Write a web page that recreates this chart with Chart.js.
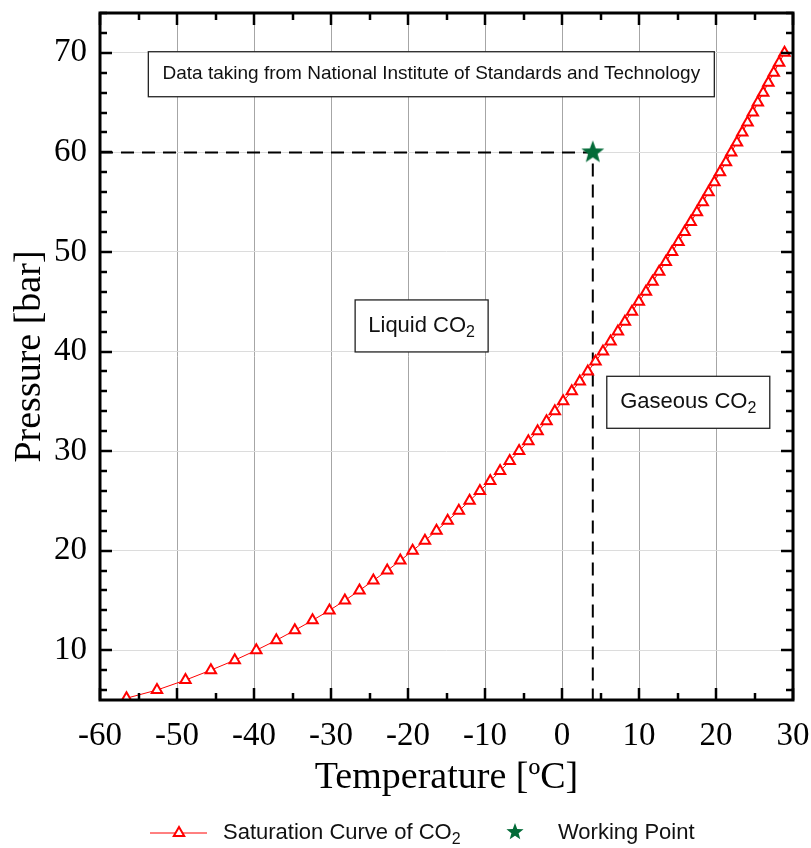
<!DOCTYPE html>
<html>
<head>
<meta charset="utf-8">
<script src="https://cdn.jsdelivr.net/npm/chart.js@4.4.0/dist/chart.umd.min.js"></script>
<style>
  html, body { margin: 0; padding: 0; background: #fff; }
  canvas { display: block; }
</style>
</head>
<body>
<canvas id="co2Chart" width="811" height="848"></canvas>
<script>
// saturation curve of CO2 (NIST values)
const satTemp = [-56.56, -52.6, -48.9, -45.6, -42.5, -39.7, -37.1, -34.7, -32.4, -30.2, -28.2,
  -26.3, -24.5, -22.7, -21.0, -19.4, -17.8, -16.3, -14.85, -13.4, -12.0, -10.66, -9.32, -8.04,
  -6.79, -5.57, -4.37, -3.17, -2.01, -0.93, 0.15, 1.27, 2.31, 3.35, 4.35, 5.32, 6.31, 7.26, 8.17,
  9.09, 9.98, 10.9, 11.76, 12.62, 13.48, 14.3, 15.13, 15.92, 16.72, 17.52, 18.28, 19.03, 19.79,
  20.52, 21.29, 21.98, 22.72, 23.41, 24.1, 24.78, 25.43, 26.13, 26.8, 27.5, 28.2, 28.9];
const satPressure = [5.18, 6, 7, 8, 9, 10, 11, 12, 13, 14, 15, 16, 17, 18, 19, 20, 21, 22, 23, 24,
  25, 26, 27, 28, 29, 30, 31, 32, 33, 34, 35, 36, 37, 38, 39, 40, 41, 42, 43, 44, 45, 46, 47, 48,
  49, 50, 51, 52, 53, 54, 55, 56, 57, 58, 59, 60, 61, 62, 63, 64, 65, 66, 67, 68, 69, 70];

const workTemp = 4;
const workPressure = 60;

const xMin = -60, xMax = 30;
const yMin = 5, yMax = 74;
const yTicks = [10, 20, 30, 40, 50, 60, 70];

// text boxes: centre in data units, size in px
const notes = [
  { parts: [['Data taking from National Institute of Standards and Technology', false]], x: -16.97, y: 67.85, w: 566, h: 45, size: 19 },
  { parts: [['Liquid CO', false], ['2', true]], x: -18.23, y: 42.57, w: 133, h: 52, size: 22 },
  { parts: [['Gaseous CO', false], ['2', true]], x: 16.4, y: 34.9, w: 163, h: 52, size: 22 }
];

const SANS = "'Liberation Sans', Arial, sans-serif";
const SERIF = "'Liberation Serif', 'Times New Roman', serif";

function makeStar(r, color) {
  const c = document.createElement('canvas');
  c.width = c.height = Math.ceil(r * 2 + 2);
  const g = c.getContext('2d');
  const cx = c.width / 2, cy = c.height / 2;
  g.beginPath();
  for (let i = 0; i < 10; i++) {
    const rad = i % 2 === 0 ? r : r * 0.42;
    const a = -Math.PI / 2 + i * Math.PI / 5;
    g.lineTo(cx + rad * Math.cos(a), cy + rad * Math.sin(a));
  }
  g.closePath();
  g.fillStyle = color;
  g.fill();
  return c;
}

const GREEN = '#036b38';
const starBig = makeStar(12, GREEN);
const starSmall = makeStar(9, GREEN);

// draws text with subscript pieces, centred or left aligned
function drawParts(ctx, parts, x, y, size, align) {
  const subSize = Math.round(size * 0.72);
  let total = 0;
  parts.forEach(p => {
    ctx.font = (p[1] ? subSize : size) + 'px ' + SANS;
    total += ctx.measureText(p[0]).width;
  });
  let cx = align === 'center' ? x - total / 2 : x;
  ctx.textAlign = 'left';
  ctx.textBaseline = 'middle';
  ctx.fillStyle = '#111';
  parts.forEach(p => {
    ctx.font = (p[1] ? subSize : size) + 'px ' + SANS;
    ctx.fillText(p[0], cx, p[1] ? y + size * 0.3 : y);
    cx += ctx.measureText(p[0]).width;
  });
}

const framePlugin = {
  id: 'framePlugin',
  afterDatasetsDraw(chart) {
    const ctx = chart.ctx;
    const xs = chart.scales.x, ys = chart.scales.y;
    ctx.save();
    notes.forEach(n => {
      const cx = xs.getPixelForValue(n.x), cy = ys.getPixelForValue(n.y);
      ctx.fillStyle = '#fff';
      ctx.fillRect(cx - n.w / 2, cy - n.h / 2, n.w, n.h);
      ctx.strokeStyle = '#222';
      ctx.lineWidth = 1.3;
      ctx.strokeRect(cx - n.w / 2, cy - n.h / 2, n.w, n.h);
      drawParts(ctx, n.parts, cx, cy, n.size, 'center');
    });
    ctx.restore();
  },
  afterDraw(chart) {
    const ctx = chart.ctx;
    const a = chart.chartArea;
    const xs = chart.scales.x, ys = chart.scales.y;
    ctx.save();
    // ticks on all four sides, pointing inward
    ctx.strokeStyle = '#000';
    ctx.lineWidth = 2.5;
    ctx.beginPath();
    for (let v = xMin; v <= xMax; v += 5) {
      const px = Math.round(xs.getPixelForValue(v));
      const len = v % 10 === 0 ? 12 : 7;
      ctx.moveTo(px, a.bottom); ctx.lineTo(px, a.bottom - len);
      ctx.moveTo(px, a.top); ctx.lineTo(px, a.top + len);
    }
    for (let v = 6; v <= yMax; v += 2) {
      const py = Math.round(ys.getPixelForValue(v));
      const len = v % 10 === 0 ? 12 : 7;
      ctx.moveTo(a.left, py); ctx.lineTo(a.left + len, py);
      ctx.moveTo(a.right, py); ctx.lineTo(a.right - len, py);
    }
    ctx.stroke();
    ctx.lineWidth = 3;
    ctx.strokeRect(a.left, a.top, a.right - a.left, a.bottom - a.top);

    // legend
    const ly = 833;
    ctx.strokeStyle = '#ff0000';
    ctx.lineWidth = 1;
    ctx.beginPath();
    ctx.moveTo(150, ly); ctx.lineTo(207, ly);
    ctx.stroke();
    const r = 6;
    ctx.beginPath();
    ctx.moveTo(179, ly - r);
    ctx.lineTo(179 + r * 0.866, ly + r * 0.5);
    ctx.lineTo(179 - r * 0.866, ly + r * 0.5);
    ctx.closePath();
    ctx.fillStyle = '#fff';
    ctx.fill();
    ctx.lineWidth = 2;
    ctx.stroke();
    drawParts(ctx, [['Saturation Curve of CO', false], ['2', true]], 223, ly, 22, 'left');
    ctx.drawImage(starSmall, 515 - starSmall.width / 2, ly - 1 - starSmall.height / 2);
    drawParts(ctx, [['Working Point', false]], 558, ly, 22, 'left');
    ctx.restore();
  }
};

const ctx = document.getElementById('co2Chart').getContext('2d');
new Chart(ctx, {
  type: 'scatter',
  data: {
    datasets: [
      {
        label: 'Saturation Curve of CO2',
        data: satTemp.map((t, i) => ({ x: t, y: satPressure[i] })),
        showLine: true,
        tension: 0,
        borderColor: '#ff0000',
        borderWidth: 1,
        pointStyle: 'triangle',
        pointRadius: 6,
        pointBorderWidth: 2,
        pointBorderColor: '#ff0000',
        pointBackgroundColor: '#ffffff'
      },
      {
        label: 'Working Point',
        data: [{ x: workTemp, y: workPressure }],
        pointStyle: starBig,
        pointRadius: 12
      },
      {
        label: 'guide',
        data: [{ x: xMin, y: workPressure }, { x: workTemp, y: workPressure }, { x: workTemp, y: yMin }],
        showLine: true,
        borderColor: '#000',
        borderWidth: 2,
        borderDash: [13, 8],
        pointRadius: 0
      }
    ]
  },
  options: {
    responsive: false,
    animation: false,
    devicePixelRatio: 1,
    layout: { padding: { left: 0, right: 18, top: 10, bottom: 46 } },
    plugins: {
      legend: { display: false },
      tooltip: { enabled: false }
    },
    scales: {
      x: {
        type: 'linear',
        min: xMin,
        max: xMax,
        ticks: {
          stepSize: 10,
          color: '#000',
          padding: 17,
          maxRotation: 0,
          font: { family: SERIF, size: 33 }
        },
        grid: { color: '#a6a6a6', lineWidth: 1, drawTicks: false },
        border: { display: false },
        title: {
          display: true,
          text: 'Temperature [ºC]',
          color: '#000',
          font: { family: SERIF, size: 38 },
          padding: { top: 0, bottom: 1 }
        },
        afterFit: s => { s.height = 102; s.paddingLeft = 0; s.paddingRight = 0; }
      },
      y: {
        type: 'linear',
        min: yMin,
        max: yMax,
        afterBuildTicks: s => { s.ticks = yTicks.map(v => ({ value: v })); },
        ticks: {
          color: '#000',
          padding: 13,
          font: { family: SERIF, size: 33 }
        },
        grid: { color: '#dcdcdc', lineWidth: 1, drawTicks: false },
        border: { display: false },
        title: {
          display: true,
          text: 'Pressure [bar]',
          color: '#000',
          font: { family: SERIF, size: 38 },
          padding: { top: 7, bottom: 0 }
        },
        afterFit: s => { s.width = 100; s.paddingTop = 0; s.paddingBottom = 0; }
      }
    }
  },
  plugins: [framePlugin]
});
</script>
</body>
</html>
